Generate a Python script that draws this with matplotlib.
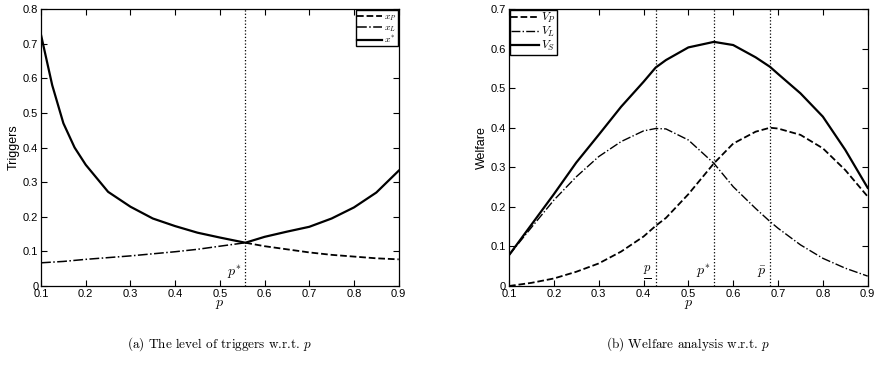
import numpy as np
import matplotlib
matplotlib.use('Agg')
import matplotlib.pyplot as plt
from matplotlib.ticker import FuncFormatter

plt.rcParams['font.family'] = ['Liberation Sans', 'DejaVu Sans']
plt.rcParams['mathtext.fontset'] = 'cm'

# (a) triggers
p_star = 0.557
p_a = [0.1, 0.125, 0.15, 0.175, 0.2, 0.25, 0.3, 0.35, 0.4, 0.45, 0.5, 0.557,
       0.6, 0.65, 0.7, 0.75, 0.8, 0.85, 0.9]
x_star = [0.725, 0.58, 0.47, 0.40, 0.35, 0.272, 0.229, 0.195, 0.173, 0.154, 0.14, 0.125,
          0.142, 0.157, 0.171, 0.195, 0.227, 0.27, 0.333]
p_xp = [0.557, 0.6, 0.65, 0.7, 0.75, 0.8, 0.85, 0.9]
x_p = [0.125, 0.115, 0.106, 0.097, 0.09, 0.085, 0.08, 0.077]
p_xl = [0.1, 0.125, 0.15, 0.175, 0.2, 0.25, 0.3, 0.35, 0.4, 0.45, 0.5, 0.557]
x_l = [0.067, 0.069, 0.071, 0.074, 0.077, 0.082, 0.087, 0.093, 0.099, 0.106, 0.115, 0.125]

# (b) welfare
p_low, p_high = 0.427, 0.682
p_b = [0.1, 0.15, 0.2, 0.25, 0.3, 0.35, 0.4, 0.427, 0.45, 0.5, 0.557, 0.6, 0.65,
       0.682, 0.7, 0.75, 0.8, 0.85, 0.9]
V_S = [0.078, 0.155, 0.232, 0.312, 0.382, 0.453, 0.516, 0.552, 0.571, 0.603, 0.617,
       0.609, 0.578, 0.554, 0.536, 0.487, 0.428, 0.344, 0.248]
V_L = [0.078, 0.148, 0.217, 0.276, 0.327, 0.365, 0.392, 0.398, 0.397, 0.369, 0.31,
       0.251, 0.196, 0.163, 0.146, 0.104, 0.07, 0.045, 0.025]
V_P = [0.0, 0.008, 0.019, 0.036, 0.057, 0.087, 0.125, 0.152, 0.172, 0.232, 0.31,
       0.36, 0.39, 0.40, 0.398, 0.382, 0.348, 0.293, 0.226]

fig = plt.figure(figsize=(8.77, 3.7), dpi=100)
ax1 = fig.add_axes([0.0468, 0.227, 0.4078, 0.7486])
ax2 = fig.add_axes([0.5804, 0.227, 0.409, 0.7486])

fmt = FuncFormatter(lambda v, pos: '0' if abs(v) < 1e-9 else '%.1f' % v)

def style(ax, ymax):
    ax.set_xlim(0.1, 0.9)
    ax.set_ylim(0, ymax)
    ax.set_xticks(np.arange(0.1, 0.91, 0.1))
    ax.set_yticks(np.arange(0, ymax + 0.01, 0.1))
    ax.xaxis.set_major_formatter(fmt)
    ax.yaxis.set_major_formatter(fmt)
    ax.tick_params(direction='in', top=True, right=True, length=4, width=0.8,
                   labelsize=8, pad=2)
    for s in ax.spines.values():
        s.set_linewidth(0.9)
    ax.set_xlabel('$p$', fontsize=10, labelpad=-1)

ax1.axvline(p_star, color='k', ls=':', lw=0.9)
ax1.plot(p_xp, x_p, 'k--', lw=1.3, label='$x_P$')
ax1.plot(p_xl, x_l, 'k-.', lw=1.1, label='$x_L$')
ax1.plot(p_a, x_star, 'k-', lw=1.6, label='$x^{*}$')
style(ax1, 0.8)
ax1.set_ylabel('Triggers', fontsize=9, labelpad=2)
ax1.text(p_star - 0.008, 0.015, '$p^{*}$', fontsize=10, ha='right', va='bottom')
ax1.legend(loc='upper right', fontsize=7, handlelength=2.6, handletextpad=0.2,
           borderpad=0.1, labelspacing=0.0, borderaxespad=0.1, frameon=True,
           fancybox=False, edgecolor='k', framealpha=1)

for v in (p_low, p_star, p_high):
    ax2.axvline(v, color='k', ls=':', lw=0.9)
ax2.plot(p_b, V_P, 'k--', lw=1.3, label='$V_P$')
ax2.plot(p_b, V_L, 'k-.', lw=1.0, label='$V_L$')
ax2.plot(p_b, V_S, 'k-', lw=1.6, label='$V_S$')
style(ax2, 0.7)
ax2.set_ylabel('Welfare', fontsize=9, labelpad=2)
ax2.text(p_low - 0.008, 0.008, r'$\frac{p}{\ }$', fontsize=13, ha='right', va='bottom')
ax2.text(p_star - 0.008, 0.015, '$p^{*}$', fontsize=10, ha='right', va='bottom')
ax2.text(p_high - 0.008, 0.015, r'$\bar{p}$', fontsize=10, ha='right', va='bottom')
ax2.legend(loc='upper left', fontsize=8.5, handlelength=2.3, handletextpad=0.2,
           borderpad=0.1, labelspacing=0.0, borderaxespad=0.1, frameon=True,
           fancybox=False, edgecolor='k', framealpha=1)

fig.text(0.25, 0.07, '(a) The level of triggers w.r.t. $p$', fontsize=9.5,
         family='cmr10', ha='center', va='center')
fig.text(0.785, 0.07, '(b) Welfare analysis w.r.t. $p$', fontsize=9.5,
         family='cmr10', ha='center', va='center')

fig.savefig('out.png', dpi=100)
